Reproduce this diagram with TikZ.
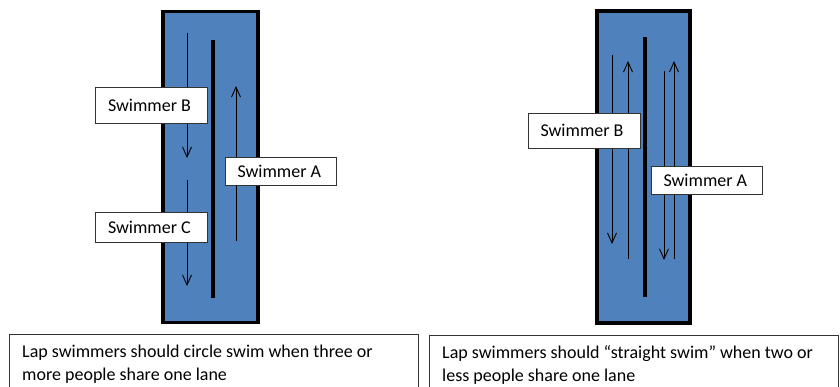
\documentclass[tikz,border=0pt]{standalone}
\usepackage{fontspec}
\setmainfont{Carlito}
\usetikzlibrary{arrows.meta}
\definecolor{poolblue}{HTML}{4F81BD}
\tikzset{
  pool/.style={draw=black, line width=3.5pt, fill=poolblue, inner sep=0pt, minimum width=#1},
  divider/.style={fill=black, inner sep=0pt, minimum width=4.5pt},
  label/.style={draw=black!80, line width=0.8pt, fill=white, inner ysep=0pt, inner xsep=12.5pt, text width=87pt, align=flush left, font=\fontsize{18}{20}\selectfont},
  swim/.style={line width=0.9pt, -{Straight Barb[length=10pt,width=9pt,line width=0.9pt]}},
  note/.style={draw=black!80, line width=0.8pt, fill=white, inner sep=0pt, anchor=north west, minimum width=409pt, minimum height=70pt},
  notetext/.style={anchor=base west, inner sep=0pt, font=\fontsize{18}{23}\selectfont, align=left}
}
\begin{document}
\begin{tikzpicture}[x=1pt,y=-1pt]
\useasboundingbox (0,0) rectangle (840,387);
\clip (0,0) rectangle (840,387);
% left pool
\node[pool=95pt, minimum height=311pt] (lpool) at (210.5,167) {};
\node[divider, minimum height=258pt] (ldiv) at (213,169) {};
% right pool
\node[pool=93pt, minimum height=312pt] (rpool) at (643.5,167) {};
\node[divider, minimum height=260pt] (rdiv) at (645,167) {};
% left arrows
\coordinate (bs) at (187,33); \coordinate (be) at (187,158);
\coordinate (cs) at (187,180); \coordinate (ce) at (187,286);
\coordinate (as) at (236,241); \coordinate (ae) at (236,86);
\draw[swim] (bs) -- (be);
\draw[swim] (cs) -- (ce);
\draw[swim] (as) -- (ae);
% right arrows
\coordinate (rb1s) at (612,55); \coordinate (rb1e) at (612,244);
\coordinate (rb2s) at (628,259); \coordinate (rb2e) at (628,61);
\coordinate (ra1s) at (664,71); \coordinate (ra1e) at (664,260);
\coordinate (ra2s) at (674,259); \coordinate (ra2e) at (674,61);
\draw[swim] (rb1s) -- (rb1e);
\draw[swim] (rb2s) -- (rb2e);
\draw[swim] (ra1s) -- (ra1e);
\draw[swim] (ra2s) -- (ra2e);
% labels
\node[label, minimum height=36pt] (lB) at (151.5,105) {Swimmer B};
\node[label, minimum height=28pt, text width=86pt] (lA) at (280.5,171) {Swimmer A};
\node[label, minimum height=30pt] (lC) at (151.5,227) {Swimmer C};
\node[label, minimum height=35pt] (rB) at (584,130.5) {Swimmer B};
\node[label, minimum height=28pt, text width=86pt] (rA) at (706.5,180) {Swimmer A};
% notes
\node[note] (ln) at (9,334) {};
\node[note] (rn) at (429,335) {};
\node[notetext] (lt1) at (22,357) {Lap swimmers should circle swim when three or};
\node[notetext] (lt2) at (22,380) {more people share one lane};
\node[notetext] (rt1) at (442,358) {Lap swimmers should “straight swim” when two or};
\node[notetext] (rt2) at (442,381) {less people share one lane};
\end{tikzpicture}
\end{document}
